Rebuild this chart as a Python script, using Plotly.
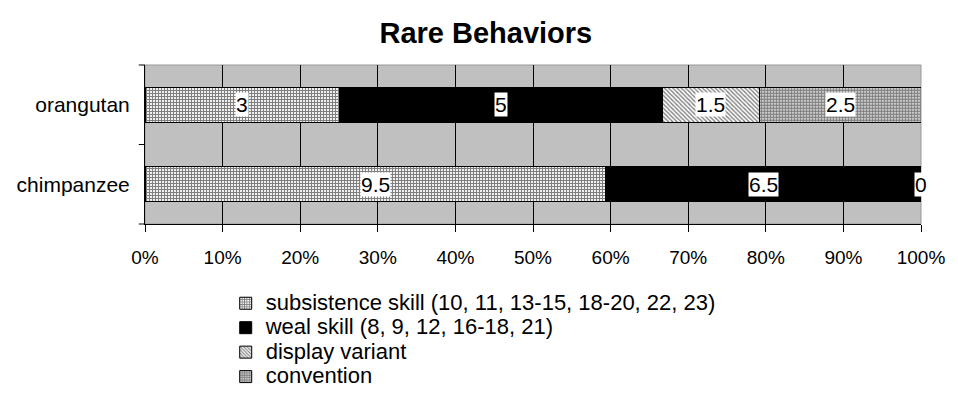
import plotly.graph_objects as go

categories = ["chimpanzee", "orangutan"]
series_names = [
    "subsistence skill (10, 11, 13-15, 18-20, 22, 23)",
    "weal skill (8, 9, 12, 16-18, 21)",
    "display variant",
    "convention",
]
subsistence = [9.5, 3]
weal = [6.5, 5]
display = [0, 1.5]
convention = [0, 2.5]
x_tick_labels = ["0%", "10%", "20%", "30%", "40%", "50%", "60%", "70%", "80%", "90%", "100%"]

series_values = [subsistence, weal, display, convention]
patterns = [
    dict(shape="+", fgcolor="black", bgcolor="white", size=3, solidity=0.65),
    None,
    dict(shape="\\", fgcolor="black", bgcolor="white", size=3, solidity=0.45),
    dict(shape=".", fgcolor="black", bgcolor="white", size=3, solidity=0.75),
]
colors = ["white", "black", "white", "white"]
FONT = "Liberation Sans, Arial"

fig = go.Figure()
for i, (name, vals) in enumerate(zip(series_names, series_values)):
    marker = dict(color=colors[i], line=dict(color="black", width=1))
    if patterns[i] is not None:
        marker["pattern"] = patterns[i]
    fig.add_trace(go.Bar(
        y=categories, x=vals, name=f'<span style="font-size:22px">{name}</span>',
        orientation="h", marker=marker, legendgroup=name, width=0.44,
    ))

# data labels centered in each segment (percent positions from the data)
annotations = []
for ci, cat in enumerate(categories):
    total = sum(s[ci] for s in series_values)
    cum = 0.0
    for si, s in enumerate(series_values):
        v = s[ci]
        if v == 0 and si == 3:
            cum += v
            continue
        mid = (cum + v / 2) / total * 100
        cum += v
        annotations.append(dict(
            x=mid, y=cat, xref="x", yref="y", text=f"{v:g}", showarrow=False,
            bgcolor="white", font=dict(family=FONT, size=21, color="black"),
            borderpad=0,
        ))

# The page body has an 8px margin, so the figure is sized/offset to compensate.
fig.update_layout(
    barmode="stack",
    barnorm="percent",
    width=950, height=401,
    margin=dict(l=137, r=37, t=57, b=185, autoexpand=False),
    paper_bgcolor="white",
    plot_bgcolor="#C0C0C0",
    font=dict(family=FONT, size=21, color="black"),
    title=dict(text="<b>Rare Behaviors</b>", x=0.503, xanchor="center", y=0.938, yanchor="middle",
               font=dict(size=29)),
    annotations=annotations,
    showlegend=True,
    legend=dict(x=0.104, xanchor="left", y=-0.39, yanchor="top", traceorder="normal",
                tracegroupgap=0, font=dict(size=16.5), itemwidth=30, bgcolor="rgba(0,0,0,0)"),
)
fig.update_xaxes(
    range=[0, 100], tickvals=list(range(0, 101, 10)), ticktext=x_tick_labels,
    tickfont=dict(size=19),
    showgrid=True, gridcolor="black", gridwidth=1,
    ticks="outside", ticklen=7, tickcolor="black", ticklabelstandoff=9,
    showline=True, linecolor="black", linewidth=1, mirror=False, zeroline=False,
)
fig.update_yaxes(
    categoryorder="array", categoryarray=categories,
    showgrid=False, ticks="", showline=True, linecolor="black", linewidth=1,
    ticklabelstandoff=10,
)
# plot area border on top and right (grey) and category-boundary tick marks
fig.add_shape(type="rect", xref="paper", yref="paper", x0=0, y0=0, x1=1, y1=1,
              line=dict(color="#999999", width=1), layer="below")
for yb in [0, 0.5, 1]:
    fig.add_shape(type="line", xref="paper", yref="paper", x0=-0.008, x1=0, y0=yb, y1=yb,
                  line=dict(color="black", width=1))
fig.write_html("out.html")
